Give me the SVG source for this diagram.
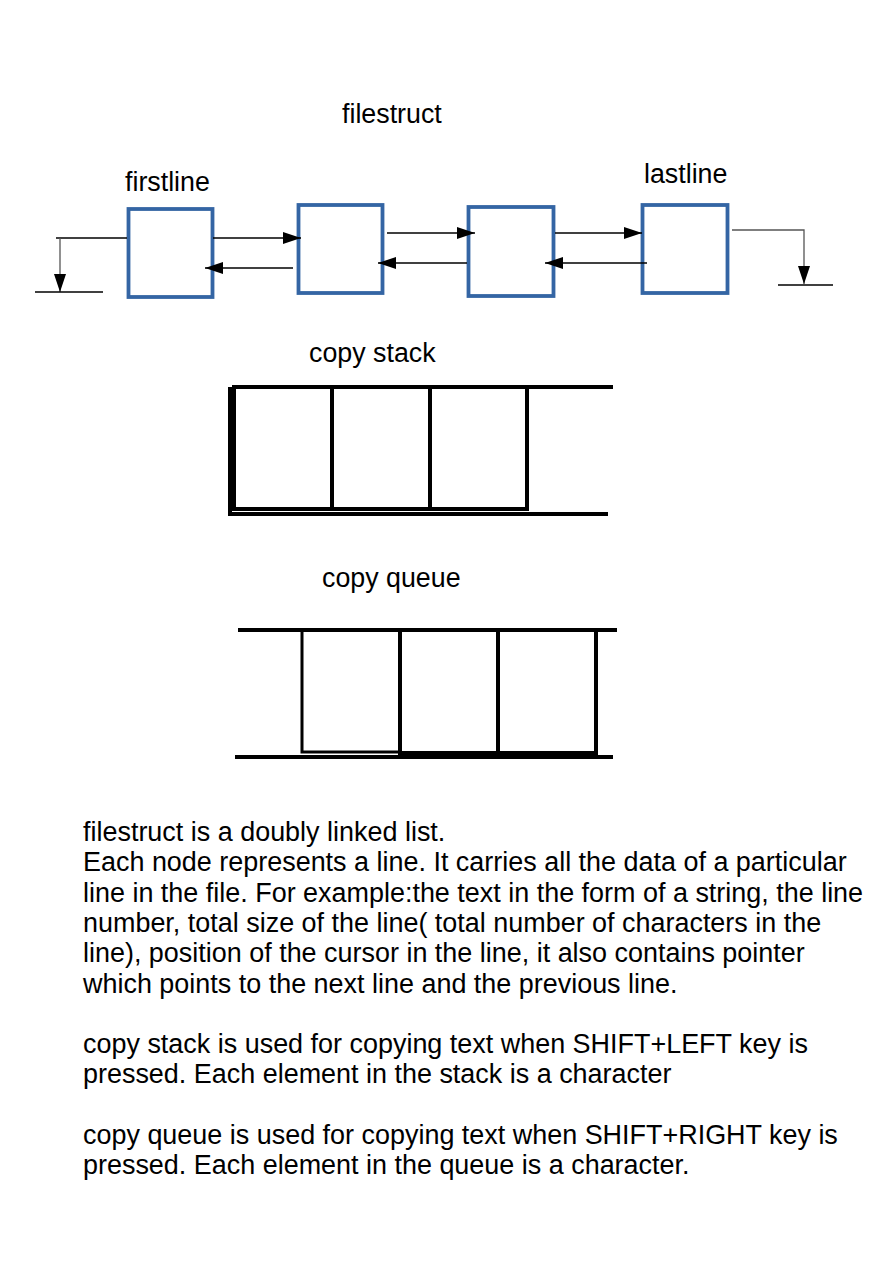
<svg xmlns="http://www.w3.org/2000/svg" width="893" height="1263" viewBox="0 0 893 1263">
<style>
text{font-family:"Liberation Sans",Arial,sans-serif;font-size:26.8px;fill:#000}
#description text{font-size:26.95px}
.node{fill:#fff;stroke:#3465a4;stroke-width:3.8}
.conn{stroke:#000;stroke-width:1.3;fill:none}
.gray{stroke:#555;stroke-width:1.3;fill:none}
.thick{stroke:#000;stroke-width:4;fill:none}
</style>
<defs>
<marker id="ah" markerUnits="userSpaceOnUse" markerWidth="18" markerHeight="12" refX="18" refY="6" orient="auto">
<path d="M0,0 L18,6 L0,12 z" fill="#000"/>
</marker>
</defs>
<rect width="893" height="1263" fill="#fff"/>
<text x="342" y="123">filestruct</text>
<text x="125" y="191">firstline</text>
<text x="644" y="183">lastline</text>
<g id="node1"><rect class="node" x="128.5" y="209" width="84" height="88"/></g>
<g id="node2"><rect class="node" x="298.5" y="205" width="84" height="88"/></g>
<g id="node3"><rect class="node" x="468.5" y="207" width="85" height="89"/></g>
<g id="node4"><rect class="node" x="642.5" y="205" width="85" height="88"/></g>
<g id="connectors">
<line class="conn" x1="213" y1="238" x2="301" y2="238" marker-end="url(#ah)"/>
<line class="conn" x1="293" y1="268" x2="205" y2="268" marker-end="url(#ah)"/>
<line class="conn" x1="387" y1="233" x2="475" y2="233" marker-end="url(#ah)"/>
<line class="conn" x1="467" y1="263" x2="378" y2="263" marker-end="url(#ah)"/>
<line class="conn" x1="555" y1="233" x2="642" y2="233" marker-end="url(#ah)"/>
<line class="conn" x1="647" y1="263" x2="545" y2="263" marker-end="url(#ah)"/>
<polyline class="conn" points="127,238 56,238"/>
<line class="gray" x1="60" y1="238" x2="60" y2="292" marker-end="url(#ah)"/>
<line class="conn" x1="35" y1="292" x2="103" y2="292"/>
<polyline class="gray" points="732,230 804,230 804,284" marker-end="url(#ah)"/>
<line class="conn" x1="778" y1="285" x2="833" y2="285"/>
</g>
<text x="309" y="362">copy stack</text>
<g id="stack">
<line class="thick" x1="232" y1="387" x2="613" y2="387"/>
<rect class="thick" x="234" y="387" width="293" height="122"/>
<line class="thick" x1="332" y1="387" x2="332" y2="509"/>
<line class="thick" x1="430" y1="387" x2="430" y2="509"/>
<line class="thick" x1="230" y1="387" x2="230" y2="516"/>
<line class="thick" x1="228" y1="514" x2="608" y2="514"/>
</g>
<text x="322" y="587">copy queue</text>
<g id="queue">
<line class="thick" x1="238" y1="630" x2="617" y2="630"/>
<rect x="302" y="630" width="98" height="122" fill="none" stroke="#000" stroke-width="3"/>
<rect class="thick" x="400" y="630" width="196" height="123"/>
<line class="thick" x1="498" y1="630" x2="498" y2="753"/>
<line class="thick" x1="235" y1="757" x2="613" y2="757"/>
</g>
<g id="description">
<text x="83" y="841">filestruct is a doubly linked list.</text>
<text x="83" y="871.3">Each node represents a line. It carries all the data of a particular</text>
<text x="83" y="901.6">line in the file. For example:the text in the form of a string, the line</text>
<text x="83" y="931.9">number, total size of the line( total number of characters in the</text>
<text x="83" y="962.2">line), position of the cursor in the line, it also contains pointer</text>
<text x="83" y="992.5">which points to the next line and the previous line.</text>
<text x="83" y="1053.1">copy stack is used for copying text when SHIFT+LEFT key is</text>
<text x="83" y="1083.4">pressed. Each element in the stack is a character</text>
<text x="83" y="1144">copy queue is used for copying text when SHIFT+RIGHT key is</text>
<text x="83" y="1174.3">pressed. Each element in the queue is a character.</text>
</g>
</svg>
